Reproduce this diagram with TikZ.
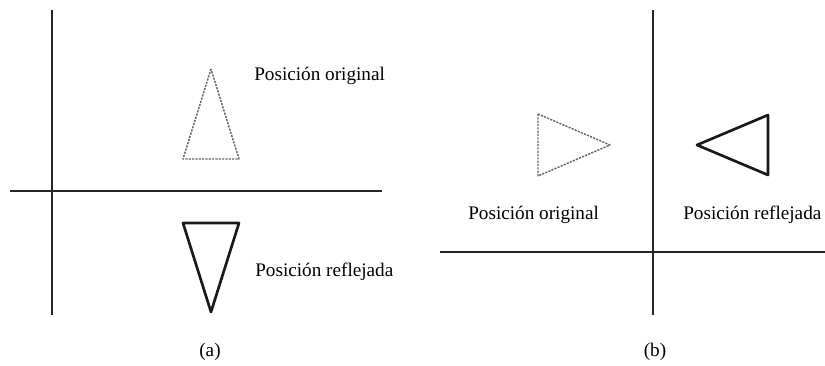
\documentclass[tikz,border=0pt]{standalone}
\usepackage{fontspec}
\setmainfont{Liberation Serif}
\begin{document}
\begin{tikzpicture}[x=0.75pt,y=-0.75pt,
  axis/.style={line width=2.1pt,draw=black!85},
  origtri/.style={line width=1.1pt,draw=black!60,dash pattern=on 1.6pt off 0.9pt,line join=round},
  refltri/.style={line width=2pt,draw=black!90,line join=round},
  lbl/.style={anchor=west,inner sep=0pt,font=\fontsize{14.4pt}{16pt}\selectfont},
  captext/.style={inner sep=0pt,font=\fontsize{14.4pt}{16pt}\selectfont}]
\useasboundingbox (0,0) rectangle (825,366);
% panel (a)
\coordinate (av1) at (52,10);
\coordinate (av2) at (52,315);
\coordinate (ah1) at (10,191);
\coordinate (ah2) at (382,191);
\draw[axis] (av1) -- (av2);
\draw[axis] (ah1) -- (ah2);
\coordinate (ao1) at (211,69);
\coordinate (ao2) at (183,159);
\coordinate (ao3) at (239,159);
\draw[origtri] (ao1) -- (ao2) -- (ao3) -- cycle;
\coordinate (ar1) at (183,223);
\coordinate (ar2) at (239,223);
\coordinate (ar3) at (211,312);
\draw[refltri] (ar1) -- (ar2) -- (ar3) -- cycle;
\node[lbl] (aorig) at (254,76) {Posición original};
\node[lbl] (arefl) at (255,272) {Posición reflejada};
\node[captext] (acap) at (210,352) {(a)};
% panel (b)
\coordinate (bv1) at (653,10);
\coordinate (bv2) at (653,315);
\coordinate (bh1) at (440,252);
\coordinate (bh2) at (825,252);
\draw[axis] (bv1) -- (bv2);
\draw[axis] (bh1) -- (bh2);
\coordinate (bo1) at (538,114);
\coordinate (bo2) at (538,176);
\coordinate (bo3) at (610,145);
\draw[origtri] (bo1) -- (bo3) -- (bo2) -- cycle;
\coordinate (br1) at (697,145);
\coordinate (br2) at (768,115);
\coordinate (br3) at (768,175);
\draw[refltri] (br1) -- (br2) -- (br3) -- cycle;
\node[lbl] (borig) at (468,215) {Posición original};
\node[lbl] (brefl) at (683,215) {Posición reflejada};
\node[captext] (bcap) at (655,352) {(b)};
\end{tikzpicture}
\end{document}
